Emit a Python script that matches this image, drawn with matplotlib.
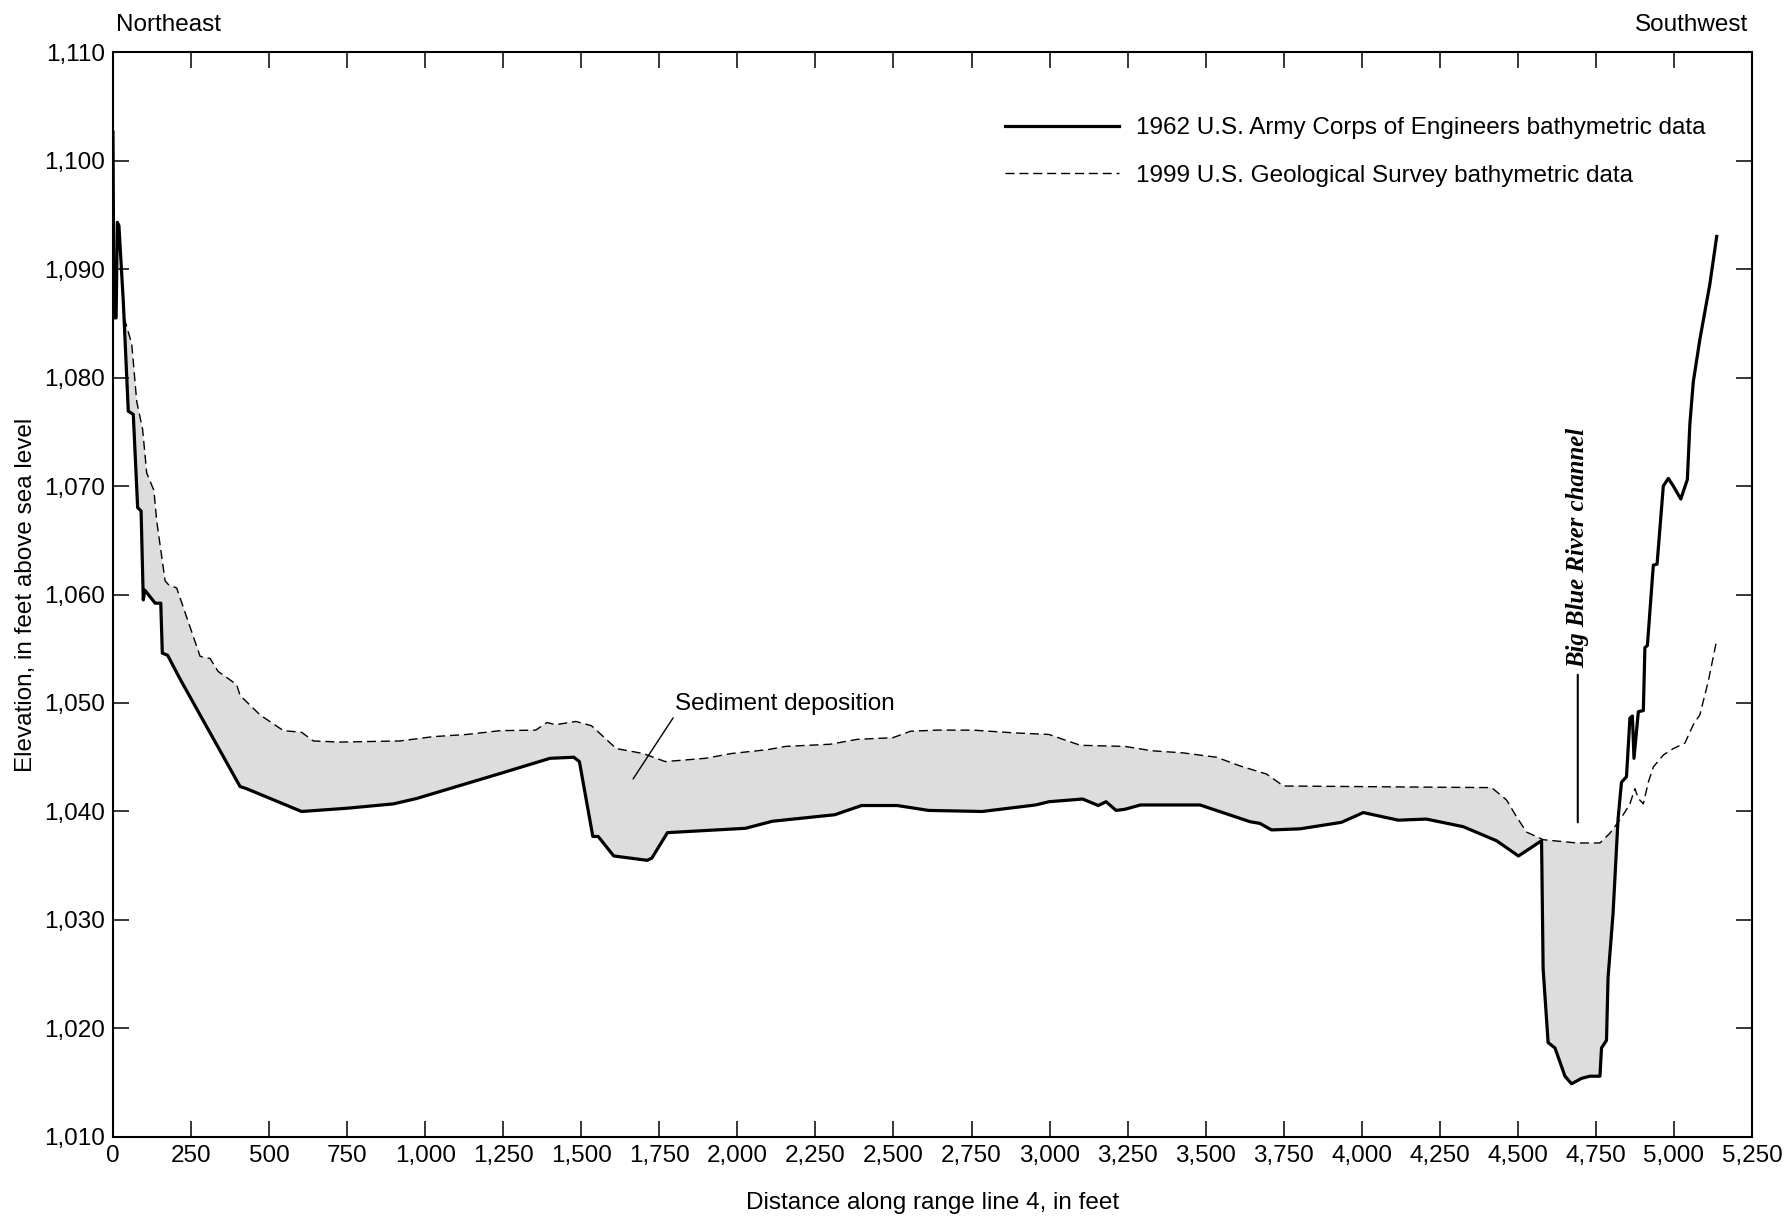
import numpy as np
import matplotlib
matplotlib.use("Agg")
import matplotlib.pyplot as plt
from matplotlib.ticker import FuncFormatter, MultipleLocator

# 1962 U.S. Army Corps of Engineers bathymetric data (distance ft, elevation ft)
dist_1962 = [0, 3, 10, 14, 19, 33, 49, 65, 79, 90, 97, 102, 135, 153, 158, 175, 215,
             407, 428, 604, 750, 898, 973, 1240, 1400, 1476, 1494, 1537, 1554, 1604,
             1711, 1726, 1776, 2026, 2112, 2312, 2398, 2512, 2612, 2784, 2955, 2998,
             3106, 3156, 3181, 3213, 3241, 3291, 3482, 3642, 3674, 3711, 3802, 3935,
             4005, 4117, 4207, 4325, 4432, 4502, 4539, 4565, 4576, 4581, 4597, 4619,
             4651, 4672, 4704, 4731, 4763, 4768, 4784, 4789, 4805, 4821, 4832, 4848,
             4859, 4867, 4872, 4886, 4902, 4907, 4915, 4934, 4946, 4966, 4982, 4998,
             5022, 5043, 5051, 5062, 5083, 5115, 5137]
elev_1962 = [1102.6, 1085.5, 1085.5, 1094.3, 1094.0, 1087.0, 1076.9, 1076.6, 1068.0,
             1067.7, 1059.5, 1060.4, 1059.2, 1059.2, 1054.6, 1054.4, 1052.2, 1042.3,
             1042.1, 1040.0, 1040.3, 1040.7, 1041.2, 1043.5, 1044.9, 1045.0, 1044.6,
             1037.7, 1037.7, 1035.9, 1035.5, 1035.7, 1038.05, 1038.45, 1039.1, 1039.7,
             1040.55, 1040.55, 1040.1, 1040.0, 1040.6, 1040.9, 1041.15, 1040.55,
             1040.9, 1040.1, 1040.2, 1040.6, 1040.6, 1039.06, 1038.9, 1038.3, 1038.4,
             1039.0, 1039.9, 1039.2, 1039.3, 1038.6, 1037.3, 1035.9, 1036.6, 1037.1,
             1037.3, 1025.5, 1018.7, 1018.2, 1015.6, 1014.9, 1015.4, 1015.6, 1015.6,
             1018.2, 1018.9, 1024.7, 1030.6, 1039.3, 1042.7, 1043.2, 1048.6, 1048.8,
             1044.9, 1049.2, 1049.3, 1055.1, 1055.3, 1062.7, 1062.8, 1070.0, 1070.7,
             1070.0, 1068.8, 1070.6, 1075.7, 1079.6, 1083.5, 1088.6, 1093.0]

# 1999 U.S. Geological Survey bathymetric data
dist_1999 = [36, 60, 76, 95, 108, 131, 140, 167, 178, 204, 279, 311, 337, 396, 407,
             471, 546, 604, 642, 727, 919, 1026, 1133, 1240, 1354, 1390, 1418, 1483,
             1533, 1612, 1697, 1769, 1897, 1983, 2097, 2155, 2298, 2384, 2498, 2555,
             2641, 2755, 2884, 2998, 3048, 3099, 3241, 3327, 3428, 3535, 3610, 3695,
             3749, 4416, 4464, 4496, 4528, 4581, 4688, 4763, 4795, 4821, 4842, 4859,
             4875, 4886, 4902, 4918, 4934, 4966, 4998, 5035, 5062, 5083, 5110, 5137]
elev_1999 = [1085.5, 1083.1, 1077.8, 1075.2, 1071.2, 1069.6, 1066.8, 1061.25, 1060.9,
             1060.6, 1054.3, 1054.1, 1052.9, 1051.7, 1050.7, 1048.9, 1047.45, 1047.3,
             1046.5, 1046.4, 1046.5, 1046.9, 1047.1, 1047.45, 1047.5, 1048.2, 1048.0,
             1048.3, 1047.9, 1045.8, 1045.35, 1044.6, 1044.9, 1045.35, 1045.7, 1046.0,
             1046.2, 1046.65, 1046.8, 1047.4, 1047.5, 1047.5, 1047.25, 1047.1, 1046.6,
             1046.1, 1046.0, 1045.6, 1045.4, 1045.0, 1044.2, 1043.45, 1042.35, 1042.2,
             1041.06, 1039.5, 1038.1, 1037.4, 1037.1, 1037.1, 1038.0, 1039.0, 1039.9,
             1040.7, 1042.1, 1041.2, 1040.7, 1042.7, 1044.1, 1045.2, 1045.8, 1046.3,
             1048.0, 1048.9, 1052.0, 1055.8]

plt.rcParams["font.family"] = ["Liberation Sans", "DejaVu Sans"]
FS = 17.5

fig = plt.figure(figsize=(17.85, 12.16), dpi=100)
ax = fig.add_axes([0.0633, 0.065, 0.9182, 0.8922])

# sediment deposition area: between the two surveys where 1999 is above 1962
d62 = np.array(dist_1962)
e62 = np.array(elev_1962)
d99 = np.array(dist_1999)
e99 = np.array(elev_1999)
x_start, x_cross = 36, 4821
m62 = (d62 >= x_start) & (d62 <= x_cross)
m99 = (d99 >= x_start) & (d99 <= x_cross)
poly_x = np.concatenate([d99[m99], d62[m62][::-1]])
poly_y = np.concatenate([e99[m99], e62[m62][::-1]])
ax.fill(poly_x, poly_y, color="#dddddd", lw=0, zorder=1)

ax.plot(dist_1962, elev_1962, color="black", lw=2.3, zorder=3,
        solid_joinstyle="round",
        label="1962 U.S. Army Corps of Engineers bathymetric data")
ax.plot(dist_1999, elev_1999, color="black", lw=1.0, dashes=(6.5, 3.5), zorder=3,
        label="1999 U.S. Geological Survey bathymetric data")

ax.set_xlim(0, 5250)
ax.set_ylim(1010, 1110)
ax.xaxis.set_major_locator(MultipleLocator(250))
ax.yaxis.set_major_locator(MultipleLocator(10))
fmt = FuncFormatter(lambda v, p: f"{v:,.0f}")
ax.xaxis.set_major_formatter(fmt)
ax.yaxis.set_major_formatter(fmt)
ax.tick_params(direction="in", length=11.5, width=1.1, top=True, right=True,
               labelsize=FS, pad=6)
for sp in ax.spines.values():
    sp.set_linewidth(1.5)

ax.set_xlabel("Distance along range line 4, in feet", fontsize=FS, labelpad=18)
ax.set_ylabel("Elevation, in feet above sea level", fontsize=FS, labelpad=5)

ax.text(0.002, 1.025, "Northeast", transform=ax.transAxes, fontsize=FS,
        ha="left", va="center")
ax.text(0.9976, 1.025, "Southwest", transform=ax.transAxes, fontsize=FS,
        ha="right", va="center")

ax.legend(loc="upper left", bbox_to_anchor=(0.5442, 0.940), frameon=False,
          fontsize=FS, handlelength=4.7, handletextpad=0.7, labelspacing=1.05,
          borderpad=0, borderaxespad=0)

ax.annotate("Sediment deposition", xy=(1666, 1043.0), xytext=(1800, 1049.9),
            fontsize=FS, ha="left", va="center",
            arrowprops=dict(arrowstyle="-", lw=1.0, color="black",
                            relpos=(0.0, 0.0), shrinkA=0, shrinkB=0))

ax.text(4692, 1053.2, "Big Blue River channel", rotation=90, ha="center",
        va="bottom", fontsize=17.8, family=["Liberation Serif", "DejaVu Serif"],
        style="italic", weight="bold")
ax.annotate("", xy=(4692, 1039.0), xytext=(4692, 1052.6),
            arrowprops=dict(arrowstyle="-", lw=1.5, color="black",
                            shrinkA=0, shrinkB=0))

fig.savefig("out.png", dpi=100)
